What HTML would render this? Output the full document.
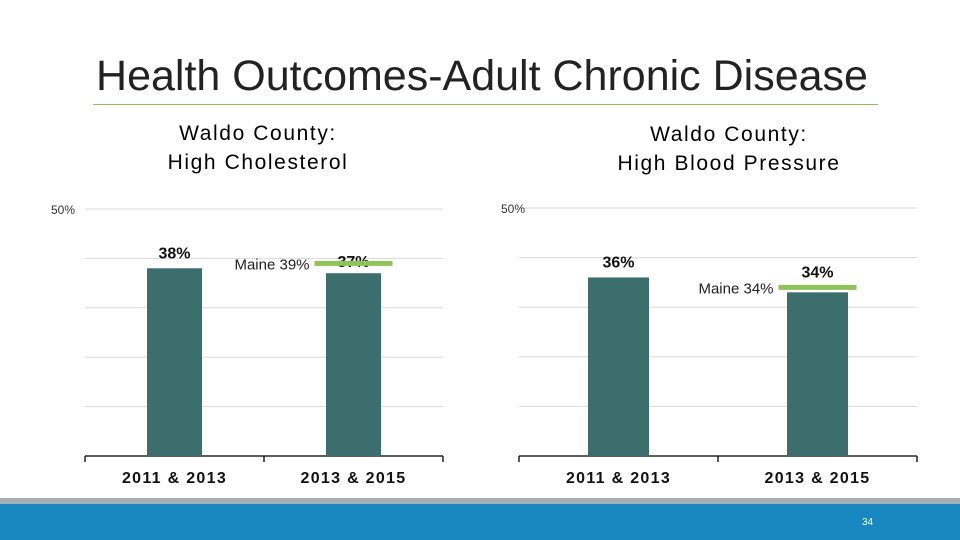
<!DOCTYPE html>
<html><head><meta charset="utf-8"><style>
body{margin:0;width:960px;height:540px;overflow:hidden;background:#fff;font-family:"Liberation Sans",sans-serif;position:relative}
.abs{position:absolute}
</style></head><body>
<div class="abs" style="left:0;width:960px;top:52px;text-align:center;font-size:43px;color:#222;padding-left:2px">Health Outcomes-Adult Chronic Disease</div>
<div class="abs" style="left:93px;top:104px;width:785px;height:1px;background:#9bbb59"></div>
<div class="abs" style="left:88px;width:340px;top:119px;text-align:center;font-size:21px;letter-spacing:1.6px;line-height:29px;color:#000">Waldo County:<br>High Cholesterol</div>
<div class="abs" style="left:559px;width:340px;top:120px;text-align:center;font-size:21px;letter-spacing:1.6px;line-height:29px;color:#000">Waldo County:<br>High Blood Pressure</div>
<svg class="abs" style="left:0;top:0" width="960" height="540">
<g id="c1"></g>
<g id="c2"></g>
</svg>
<div class="abs" style="left:0;top:498px;width:960px;height:6px;background:#a5aeb3"></div>
<div class="abs" style="left:0;top:504px;width:960px;height:36px;background:#1a88c0"></div>
<div class="abs" style="left:862px;top:517px;font-size:10px;color:#fff">34</div>
<script>
const categories=["2011 & 2013","2013 & 2015"];
const cholValues=[38,37];
const cholMaine=39;
const bpValues=[36,33];
const bpLabels=["36%","34%"];
const bpMaine=34;
const cholLabels=["38%","37%"];
const NS="http://www.w3.org/2000/svg";
function mk(p,t,a){const e=document.createElementNS(NS,t);for(const k in a)e.setAttribute(k,a[k]);p.appendChild(e);return e;}
function draw(g,cfg){
  const y=v=>cfg.base-(v/50)*(cfg.base-cfg.top);
  const bw=(cfg.x1-cfg.x0)/2;
  for(let v=10;v<=50;v+=10){const l=mk(g,'line',{x1:cfg.x0,x2:cfg.x1,y1:y(v),y2:y(v),stroke:'#d9d9d9','stroke-width':1});
    
    }
  const t=mk(g,'text',{x:cfg.tickX,y:y(50)+5,'font-size':12,fill:'#333','text-anchor':'end'});t.textContent='50%';
  
  
  mk(g,'line',{x1:cfg.x0,x2:cfg.x1,y1:cfg.base,y2:cfg.base,stroke:'#000','stroke-width':1.3});
  [0,1,2].forEach(i=>mk(g,'line',{x1:cfg.x0+i*bw,x2:cfg.x0+i*bw,y1:cfg.base,y2:cfg.base+6,stroke:'#000','stroke-width':1.3}));
  cfg.values.forEach((v,i)=>{
    const cx=cfg.x0+bw*(i+0.5);
    const r=mk(g,'rect',{x:cx-cfg.barW/2,y:y(v),width:cfg.barW,height:cfg.base-y(v),fill:'#3d6e6e'});
    
    
    const lb=mk(g,'text',{x:cx,y:y(v)+cfg.labOff[i],'font-size':16,'font-weight':'bold','text-anchor':'middle',fill:'#111'});lb.textContent=cfg.labels[i];
    
    
    const c=mk(g,'text',{x:cx,y:cfg.base+27,'font-size':16,'font-weight':'bold','text-anchor':'middle',fill:'#111','letter-spacing':'1.3'});c.textContent=categories[i];
    
    
  });
  const cx=cfg.x0+bw*1.5;
  const m=mk(g,'line',{x1:cx-39,x2:cx+39,y1:y(cfg.maine),y2:y(cfg.maine),stroke:'#8fc35a','stroke-width':5});
  
  
  const mt=mk(g,'text',{x:cx-44,y:y(cfg.maine)+6,'font-size':15,fill:'#222','text-anchor':'end'});mt.textContent='Maine '+cfg.maine+'%';
  
  
}
draw(document.getElementById('c1'),{x0:85,x1:443,top:209,base:456,barW:55,values:cholValues,labels:cholLabels,maine:cholMaine,tickX:75,labOff:[-10,-6]});
draw(document.getElementById('c2'),{x0:519,x1:917,top:208,base:456,barW:61,values:bpValues,labels:bpLabels,maine:bpMaine,tickX:525,labOff:[-10,-15]});
</script>
</body></html>
